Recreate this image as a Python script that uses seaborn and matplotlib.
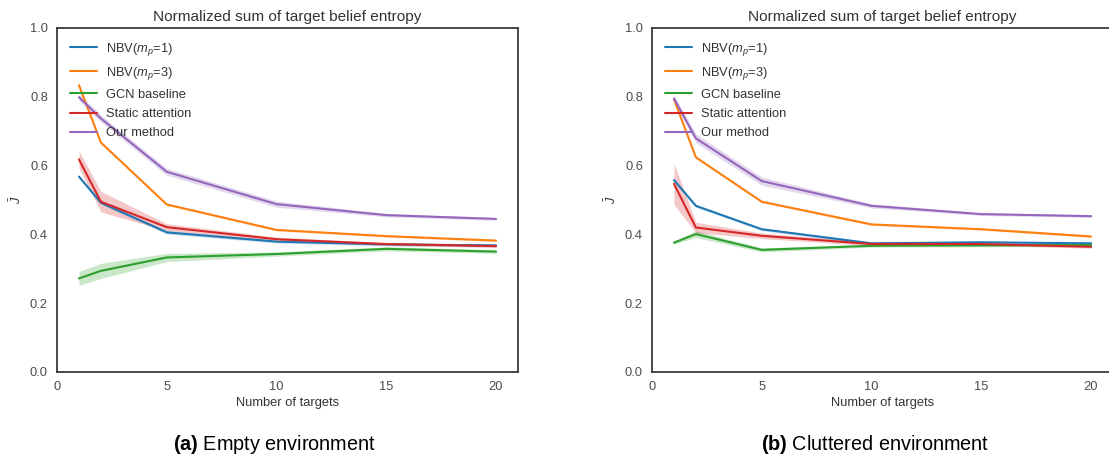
import numpy as np
import pandas as pd
import matplotlib
matplotlib.use("Agg")
import matplotlib.pyplot as plt
import seaborn as sns

# number of targets on the x axis
n_targets = [1, 2, 5, 10, 15, 20]

methods = ["NBV($m_p$=1)", "NBV($m_p$=3)", "GCN baseline", "Static attention", "Our method"]

# (a) empty environment: mean normalized entropy
empty_nbv1 = [0.568, 0.492, 0.406, 0.379, 0.371, 0.368]
empty_nbv3 = [0.834, 0.667, 0.487, 0.413, 0.395, 0.382]
empty_gcn = [0.272, 0.294, 0.333, 0.343, 0.358, 0.350]
empty_static = [0.618, 0.495, 0.421, 0.386, 0.372, 0.366]
empty_ours = [0.799, 0.737, 0.582, 0.488, 0.456, 0.445]

# (a) half-width of the shaded band
empty_nbv1_err = [0.004, 0.004, 0.005, 0.004, 0.004, 0.004]
empty_nbv3_err = [0.003, 0.003, 0.003, 0.003, 0.003, 0.003]
empty_gcn_err = [0.020, 0.022, 0.012, 0.006, 0.006, 0.005]
empty_static_err = [0.025, 0.030, 0.010, 0.006, 0.004, 0.004]
empty_ours_err = [0.010, 0.010, 0.010, 0.009, 0.005, 0.004]

# (b) cluttered environment
clut_nbv1 = [0.558, 0.483, 0.415, 0.374, 0.377, 0.374]
clut_nbv3 = [0.793, 0.624, 0.495, 0.429, 0.415, 0.394]
clut_gcn = [0.376, 0.401, 0.355, 0.367, 0.368, 0.369]
clut_static = [0.547, 0.420, 0.396, 0.372, 0.372, 0.364]
clut_ours = [0.795, 0.679, 0.555, 0.483, 0.459, 0.453]

clut_nbv1_err = [0.004, 0.004, 0.004, 0.004, 0.004, 0.004]
clut_nbv3_err = [0.003, 0.003, 0.003, 0.003, 0.003, 0.003]
clut_gcn_err = [0.004, 0.010, 0.006, 0.004, 0.004, 0.004]
clut_static_err = [0.060, 0.015, 0.008, 0.005, 0.004, 0.004]
clut_ours_err = [0.010, 0.013, 0.012, 0.006, 0.004, 0.004]

sns.set_style("white")
plt.rcParams['font.family'] = ['Liberation Sans', 'DejaVu Sans']
plt.rcParams['mathtext.fontset'] = 'custom'
plt.rcParams['mathtext.rm'] = 'Liberation Sans'
plt.rcParams['mathtext.it'] = 'Liberation Sans:italic'
plt.rcParams['mathtext.bf'] = 'Liberation Sans:bold'
plt.rcParams['axes.edgecolor'] = '.2'
plt.rcParams['axes.linewidth'] = 1.25

colors = sns.color_palette("tab10", 5)


def draw_panel(ax, means, errs):
    for i, (name, m, e) in enumerate(zip(methods, means, errs)):
        df = pd.DataFrame({"targets": n_targets, "J": m})
        sns.lineplot(data=df, x="targets", y="J", ax=ax, color=colors[i],
                     linewidth=1.5, label=name)
        lo = np.array(m) - np.array(e)
        hi = np.array(m) + np.array(e)
        ax.fill_between(n_targets, lo, hi, color=colors[i], alpha=0.25, linewidth=0)
    ax.set_xlim(0, 21)
    ax.set_ylim(0, 1.0)
    ax.set_xticks([0, 5, 10, 15, 20])
    ax.set_yticks([0.0, 0.2, 0.4, 0.6, 0.8, 1.0])
    ax.tick_params(labelsize=9.3, colors='.3', pad=3)
    ax.set_title("Normalized sum of target belief entropy", fontsize=11.1, color='.2', pad=5)
    ax.set_xlabel("Number of targets", fontsize=9.3, color='.2', labelpad=3)
    ax.set_ylabel(r"$\bar{J}$", fontsize=9, color='.2')
    ax.legend(loc="upper left", frameon=False, fontsize=9.25, handlelength=2.1,
              handletextpad=0.7, labelspacing=0.55, borderaxespad=0.6, labelcolor='.2')


fig = plt.figure(figsize=(11.09, 4.62), dpi=100)
ax1 = fig.add_axes([57 / 1109, 1 - 372 / 462, 461 / 1109, 344 / 462])
ax2 = fig.add_axes([652 / 1109, 1 - 372 / 462, 461 / 1109, 344 / 462])

draw_panel(ax1,
           [empty_nbv1, empty_nbv3, empty_gcn, empty_static, empty_ours],
           [empty_nbv1_err, empty_nbv3_err, empty_gcn_err, empty_static_err, empty_ours_err])
draw_panel(ax2,
           [clut_nbv1, clut_nbv3, clut_gcn, clut_static, clut_ours],
           [clut_nbv1_err, clut_nbv3_err, clut_gcn_err, clut_static_err, clut_ours_err])

fig.text(274 / 1109, 1 - 445 / 462, r"$\bf{(a)}$ Empty environment", ha="center", va="center",
         fontsize=14.3, color='black')
fig.text(875 / 1109, 1 - 445 / 462, r"$\bf{(b)}$ Cluttered environment", ha="center", va="center",
         fontsize=14.3, color='black')

fig.savefig("out.png", dpi=100)
